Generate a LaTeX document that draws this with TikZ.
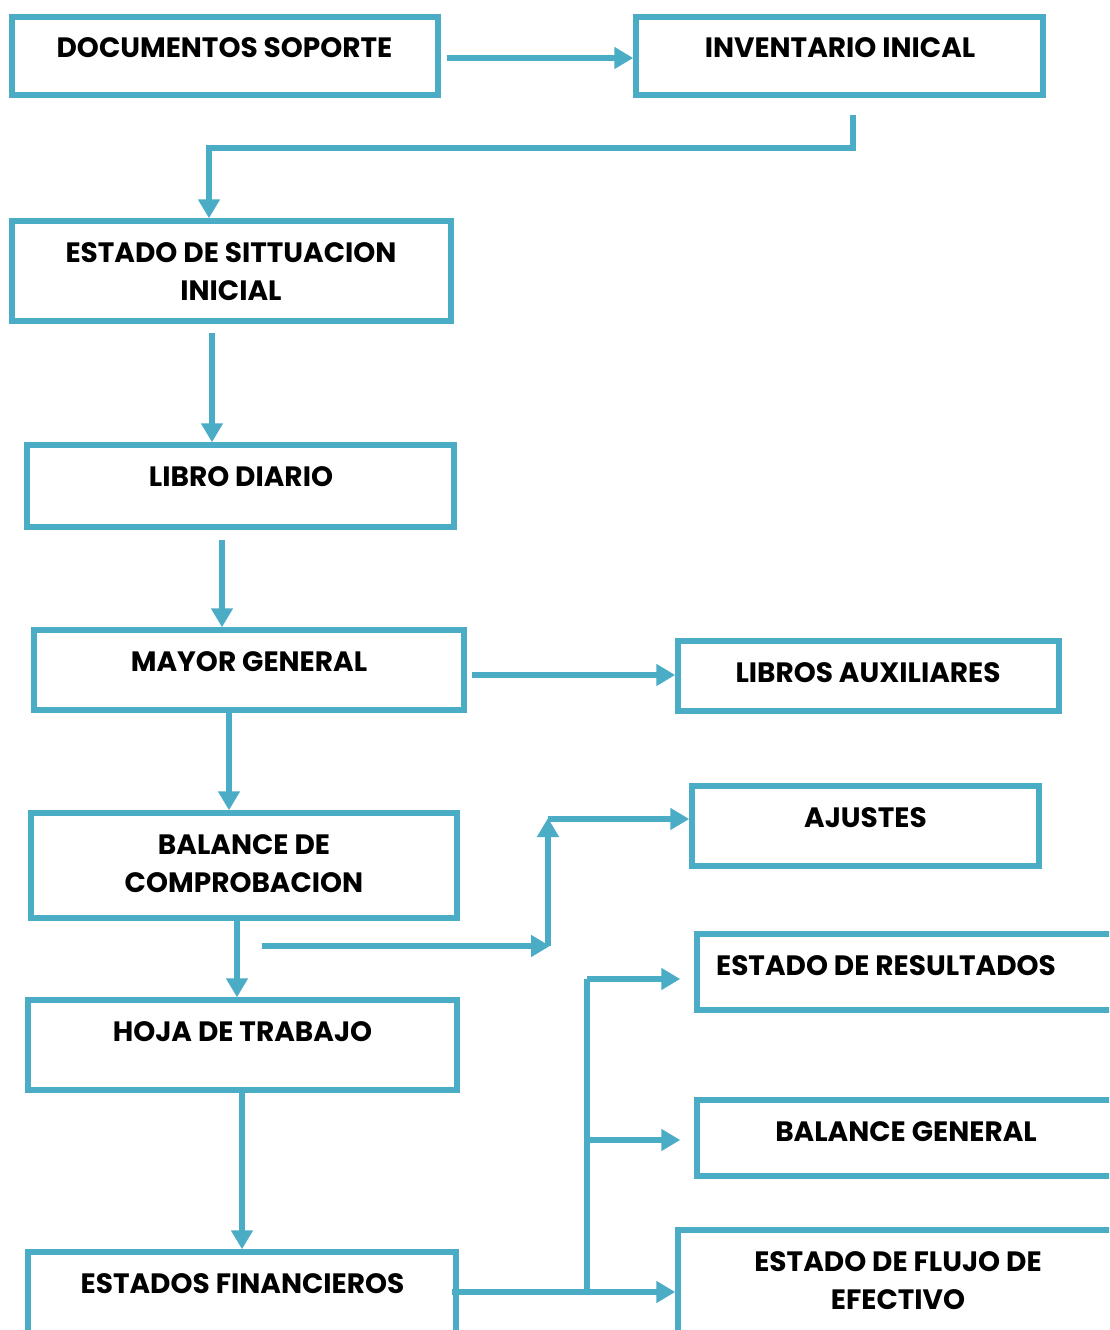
\documentclass[tikz,border=0pt]{standalone}
\usepackage{fontspec}
\setmainfont{Poppins}
\usetikzlibrary{arrows.meta}
\definecolor{acc}{HTML}{4BACC6}
\begin{document}
\begin{tikzpicture}[x=1pt,y=1pt,
  box/.style 2 args={draw=acc, line width=5.5pt, rectangle, inner sep=0pt,
    minimum width=#1, minimum height=#2},
  lbl/.style={anchor=base, inner sep=0pt, align=center, text=black,
    font=\fontsize{28}{38}\selectfont\bfseries, yshift=-43.75pt},
  lbltwo/.style={lbl, yshift=-38pt},
  arr/.style={draw=acc, line width=5.5pt, -{Triangle[length=19pt,width=21pt]}},
  ln/.style={draw=acc, line width=5.5pt}]
\useasboundingbox (0,0) rectangle (1109,-1330);
\clip (0,0) rectangle (1109,-1330);
\fill[white] (0,0) rectangle (1109,-1330);

\node[box={426pt}{78pt}, label={[lbl,xshift=-0.5pt]north:DOCUMENTOS SOPORTE}] (doc) at (225,-56) {};
\node[box={407pt}{78pt}, label={[lbl,xshift=0.5pt]north:INVENTARIO INICAL}] (inv) at (839.5,-56) {};
\node[box={439pt}{100pt}, label={[lbltwo,xshift=-0.5pt]north:ESTADO DE SITTUACION\\INICIAL}] (esi) at (231.5,-271) {};
\node[box={427pt}{82pt}, label={[lbl,xshift=0.5pt]north:LIBRO DIARIO}] (ld) at (240.5,-486) {};
\node[box={430pt}{80pt}, label={[lbl]north:MAYOR GENERAL}] (mg) at (249,-670) {};
\node[box={381pt}{70pt}, label={[lbl,xshift=-0.5pt]north:LIBROS AUXILIARES}] (la) at (868.5,-676) {};
\node[box={347pt}{80pt}, label={[lbl]north:AJUSTES}] (aj) at (865.5,-826) {};
\node[box={426pt}{105pt}, label={[lbltwo]north:BALANCE DE\\COMPROBACION}] (bc) at (244,-865.5) {};
\node[box={433pt}{76pt}, label={[lbl,xshift=-27.5pt]north:ESTADO DE RESULTADOS}] (er) at (913.5,-972) {};
\node[box={429pt}{90pt}, label={[lbl]north:HOJA DE TRABAJO}] (ht) at (242.5,-1045) {};
\node[box={433pt}{76pt}, label={[lbl,xshift=-7.5pt]north:BALANCE GENERAL}] (bg) at (913.5,-1138) {};
\node[box={452pt}{120pt}, label={[lbltwo,xshift=-6pt]north:ESTADO DE FLUJO DE\\EFECTIVO}] (efe) at (904,-1290) {};
\node[box={428pt}{98pt}, label={[lbl,xshift=0.5pt]north:ESTADOS FINANCIEROS}] (ef) at (242,-1301) {};

% connectors
\draw[arr, shorten <=6pt] (doc.east |- 0,-58) -- (inv.west |- 0,-58);
\draw[arr, shorten <=17pt] (853,0 |- inv.south) -- (853,-148) -- (209,-148) -- (209,0 |- esi.north);
\draw[arr, shorten <=9pt] (212,0 |- esi.south) -- (212,0 |- ld.north);
\draw[arr, shorten <=10pt] (222,0 |- ld.south) -- (222,0 |- mg.north);
\draw[arr, shorten <=5pt] (mg.east |- 0,-675) -- (la.west |- 0,-675);
\draw[arr] (229,0 |- mg.south) -- (229,0 |- bc.north);
\draw[arr] (237,0 |- bc.south) -- (237,0 |- ht.north);

\coordinate (b1) at (262,-946);
\coordinate (b2) at (550,-946);
\coordinate (b3) at (548,-946);
\coordinate (b4) at (548,-818);
\coordinate (b5) at (548,-819);
\draw[arr] (b1) -- (b2);
\draw[arr] (b3) -- (b4);
\draw[arr] (b5) -- (aj.west |- b5);

\draw[arr] (242,0 |- ht.south) -- (242,0 |- ef.north);
\coordinate (f0) at (452,-1292);
\coordinate (j1) at (587,-1292);
\coordinate (j2) at (587,-1140);
\coordinate (j3) at (587,-979);
\draw[arr] (f0) -- (efe.west |- f0);
\draw[ln] (j1) -- (j3);
\draw[arr, shorten >=14pt] (j3) -- (er.west |- j3);
\draw[arr, shorten >=14pt] (j2) -- (bg.west |- j2);
\end{tikzpicture}
\end{document}
